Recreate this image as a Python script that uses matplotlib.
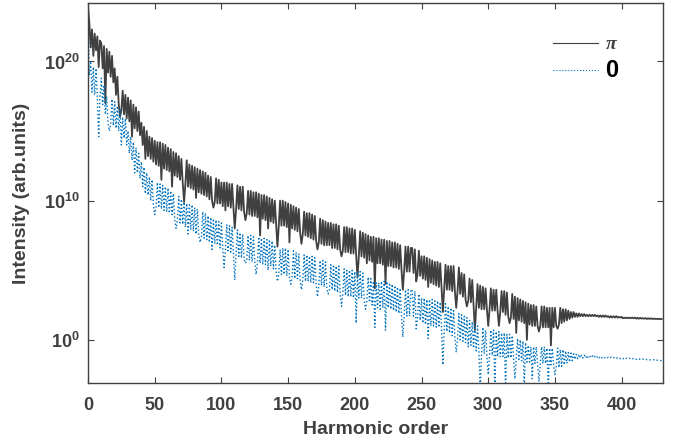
import numpy as np
import matplotlib
matplotlib.use('Agg')
import matplotlib.pyplot as plt

# log10 of intensity, one value per harmonic order 0..430
harmonic_order = np.arange(431)

log_pi = [
    24.0, 22.8, 21.0, 22.3, 20.4, 22.0, 20.8, 21.8, 19.6, 21.5,
    21.3, 19.5, 21.1, 17.0, 20.9, 19.2, 20.7, 18.9, 20.4, 18.5,
    19.5, 17.6, 18.9, 17.0, 16.0, 16.5, 17.9, 16.2, 17.6, 15.9,
    17.4, 15.7, 17.2, 14.6, 16.9, 15.2, 16.7, 15.0, 16.4, 14.7,
    15.6, 14.0, 15.3, 13.0, 15.0, 13.2, 14.6, 13.0, 14.5, 12.8,
    14.3, 12.6, 14.2, 12.5, 14.2, 11.5, 14.1, 12.3, 14.0, 12.2,
    13.8, 12.1, 13.7, 11.0, 13.5, 11.8, 13.4, 11.7, 13.2, 11.5,
    13.0, 11.3, 9.9, 11.2, 12.9, 11.0, 12.6, 10.9, 12.5, 10.8,
    12.4, 10.2, 12.3, 10.6, 12.2, 10.5, 12.1, 10.4, 12.0, 10.3,
    11.8, 10.1, 11.7, 10.0, 9.5, 9.9, 11.6, 9.8, 11.5, 9.8,
    11.3, 9.6, 11.3, 9.3, 11.3, 9.6, 11.2, 9.5, 11.2, 9.5,
    8.0, 9.4, 11.1, 9.4, 11.0, 9.3, 11.0, 9.2, 8.6, 9.1,
    10.7, 9.0, 10.7, 8.9, 10.6, 8.9, 10.6, 8.8, 10.5, 7.5,
    10.4, 8.7, 10.4, 8.6, 10.3, 8.0, 10.2, 8.5, 10.1, 8.4,
    10.0, 8.3, 6.7, 8.2, 10.0, 8.2, 10.0, 8.2, 9.9, 8.1,
    9.8, 7.0, 9.7, 8.0, 9.6, 7.9, 9.5, 7.8, 9.4, 7.7,
    6.9, 7.6, 9.2, 7.5, 9.1, 7.4, 9.1, 7.3, 9.0, 7.2,
    8.9, 7.1, 6.5, 7.0, 8.7, 6.9, 8.6, 6.8, 8.5, 6.8,
    8.4, 6.8, 8.4, 6.6, 8.3, 6.6, 8.3, 6.5, 8.2, 6.5,
    6.0, 6.4, 8.1, 6.3, 8.1, 6.3, 8.0, 6.2, 8.0, 6.2,
    7.9, 6.1, 4.5, 6.0, 7.8, 6.0, 7.7, 5.9, 7.6, 5.5,
    7.5, 5.7, 7.4, 5.6, 7.4, 3.7, 7.3, 5.5, 7.3, 5.5,
    7.2, 5.4, 7.2, 4.0, 7.1, 5.3, 7.1, 5.3, 7.0, 5.2,
    7.0, 5.2, 6.9, 5.1, 6.8, 5.0, 3.6, 5.0, 6.7, 4.9,
    6.7, 4.9, 6.6, 6.6, 4.8, 6.5, 4.2, 4.7, 6.4, 4.6,
    6.0, 4.4, 6.0, 4.3, 5.9, 3.8, 5.8, 4.1, 5.7, 4.0,
    5.6, 3.9, 5.6, 3.8, 5.5, 3.7, 2.0, 3.7, 5.4, 3.6,
    5.3, 3.6, 5.3, 3.5, 5.3, 3.5, 2.3, 3.5, 5.2, 3.3,
    4.8, 3.1, 4.7, 2.9, 2.4, 2.8, 4.4, 2.7, 4.3, 2.5,
    0.7, 2.4, 4.0, 2.3, 3.9, 2.2, 3.8, 2.2, 3.7, 2.2,
    1.0, 2.2, 3.7, 2.1, 3.6, 2.1, 3.6, 2.1, 1.0, 2.0,
    3.5, 2.0, 3.5, 1.8, 3.4, 1.7, 1.2, 1.6, 3.3, 1.5,
    3.1, 0.5, 3.0, 1.4, 2.9, 1.3, 2.8, 1.2, 2.7, 0.0,
    2.6, 1.1, 2.5, 1.0, 2.5, 1.0, 2.4, 1.0, 0.6, 1.0,
    2.4, 0.9, 2.4, 0.9, 2.3, 0.9, 2.3, -0.4, 2.3, 0.9,
    2.3, 1.0, 0.8, 1.1, 2.3, 1.2, 2.2, 1.3, 2.2, 1.4,
    2.1, 1.5, 2.0, 1.6, 2.0, 1.65, 1.9, 1.65, 1.9, 1.7,
    1.85, 1.7, 1.85, 1.7, 1.8, 1.7, 1.8, 1.7, 1.8, 1.7,
    1.8, 1.7, 1.75, 1.65, 1.75, 1.65, 1.75, 1.65, 1.75, 1.65,
    1.7, 1.6, 1.7, 1.6, 1.7, 1.6, 1.7, 1.6, 1.65, 1.6,
    1.65, 1.55, 1.6, 1.55, 1.6, 1.55, 1.6, 1.55, 1.6, 1.55,
    1.6, 1.52, 1.58, 1.52, 1.58, 1.52, 1.56, 1.52, 1.56, 1.5,
    1.55, 1.5, 1.55, 1.5, 1.53, 1.5, 1.52, 1.49, 1.51, 1.49,
    1.5,
]

log_zero = [
    24.0, 19.0, 20.0, 17.8, 19.6, 17.6, 19.5, 17.5, 14.6, 17.5,
    18.8, 16.9, 18.3, 16.2, 17.5, 15.6, 15.0, 15.5, 17.3, 15.4,
    17.1, 15.2, 16.8, 15.0, 16.6, 14.0, 16.0, 14.5, 15.9, 14.0,
    15.0, 13.4, 14.6, 12.9, 14.2, 12.0, 13.8, 12.0, 13.4, 11.6,
    12.8, 11.0, 12.4, 10.5, 12.0, 10.4, 11.7, 10.0, 11.5, 9.7,
    9.0, 9.5, 11.3, 9.5, 11.2, 9.4, 11.1, 9.3, 11.0, 9.2,
    10.9, 9.1, 10.7, 9.0, 10.5, 8.7, 8.0, 8.6, 10.3, 8.4,
    10.1, 8.3, 9.9, 8.1, 9.8, 7.6, 9.7, 7.9, 9.7, 7.8,
    9.5, 7.6, 9.4, 7.5, 7.0, 7.4, 9.2, 7.3, 9.1, 7.2,
    8.9, 7.0, 8.8, 6.5, 8.7, 6.9, 8.6, 6.8, 8.5, 6.6,
    8.4, 6.6, 5.2, 6.5, 8.3, 6.4, 8.2, 6.3, 8.1, 6.2,
    4.3, 6.2, 7.9, 6.0, 7.7, 5.9, 7.6, 5.8, 5.5, 5.7,
    7.5, 5.7, 7.5, 5.6, 7.4, 5.6, 4.7, 5.5, 7.4, 5.5,
    7.3, 5.4, 7.3, 5.4, 7.2, 5.0, 7.2, 5.3, 7.1, 5.1,
    6.8, 4.9, 4.2, 4.7, 6.5, 4.7, 6.6, 4.7, 6.6, 4.6,
    6.5, 4.5, 4.0, 4.5, 6.4, 4.4, 6.3, 4.4, 6.2, 4.3,
    3.6, 4.3, 6.1, 4.2, 6.1, 4.2, 6.0, 4.1, 6.0, 4.1,
    5.9, 4.0, 3.1, 3.9, 5.7, 3.9, 5.7, 3.8, 5.6, 3.7,
    3.3, 3.6, 5.4, 3.6, 5.4, 3.5, 5.3, 3.4, 5.3, 3.4,
    2.4, 3.3, 5.1, 3.2, 5.0, 3.1, 5.0, 3.1, 5.0, 3.0,
    4.9, 1.2, 4.9, 3.0, 4.9, 3.0, 4.8, 2.9, 2.2, 2.8,
    4.5, 2.7, 4.4, 2.5, 4.2, 0.9, 4.1, 2.3, 4.1, 2.2,
    4.2, 2.3, 4.2, 0.7, 4.2, 2.3, 4.1, 2.2, 4.0, 2.1,
    3.9, 2.0, 3.8, 1.9, 3.7, 1.8, 0.2, 1.7, 3.6, 1.7,
    3.6, 1.7, 3.6, 3.6, 1.7, 3.5, 0.8, 1.6, 3.3, 1.4,
    3.0, 1.2, 3.0, 1.1, 2.9, 0.1, 2.9, 1.0, 2.9, 1.0,
    2.8, 0.9, 2.8, 0.9, 2.7, 0.8, -1.8, 0.7, 2.6, 0.6,
    2.4, 0.5, 2.3, 0.3, 2.1, 0.2, -0.9, 0.1, 1.9, 0.0,
    1.8, -0.1, 1.7, -0.2, 1.6, -0.5, 1.4, -0.4, 1.3, -0.6,
    1.1, -0.8, 1.0, -0.9, -3.5, -1.0, 0.9, -1.0, 0.7, -1.1,
    -2.5, -1.1, 0.7, -1.1, 0.7, -3.5, 0.6, -1.2, 0.6, -1.2,
    0.5, -1.2, 0.5, -3.5, 0.4, -1.3, 0.4, -1.3, 0.3, -1.3,
    -2.8, -1.4, 0.1, -1.4, 0.0, -1.5, -0.1, -3.5, -0.2, -1.6,
    -0.4, -1.6, -0.5, -2.8, -0.5, -1.7, -0.5, -1.7, -3.0, -1.7,
    -0.5, -1.7, -0.5, -1.7, -0.6, -3.5, -0.6, -1.8, -0.6, -1.8,
    -2.5, -1.9, -0.6, -2.0, -0.7, -1.9, -0.7, -1.8, -0.8, -1.7,
    -0.9, -1.6, -0.95, -1.5, -1.0, -1.4, -1.05, -1.35, -1.05, -1.3,
    -1.1, -1.3, -1.1, -1.3, -1.12, -1.28, -1.15, -1.28, -1.15, -1.27,
    -1.18, -1.3, -1.18, -1.3, -1.2, -1.3, -1.22, -1.3, -1.22, -1.3,
    -1.25, -1.32, -1.25, -1.32, -1.27, -1.33, -1.27, -1.33, -1.28, -1.35,
    -1.3, -1.36, -1.3, -1.36, -1.32, -1.37, -1.32, -1.38, -1.33, -1.38,
    -1.35, -1.4, -1.35, -1.4, -1.37, -1.41, -1.38, -1.42, -1.39, -1.42,
    -1.4, -1.44, -1.42, -1.45, -1.43, -1.46, -1.45, -1.47, -1.47, -1.48,
    -1.5,
]

x_ticks = [0, 50, 100, 150, 200, 250, 300, 350, 400]
y_ticks = [1e0, 1e10, 1e20]
y_tick_labels = [r'$\mathbf{10^{0}}$', r'$\mathbf{10^{10}}$', r'$\mathbf{10^{20}}$']

GRAY = '#404040'
BLUE = '#0072BD'

plt.rcParams['font.family'] = ['Liberation Sans', 'DejaVu Sans']
plt.rcParams['font.weight'] = 'bold'
plt.rcParams['mathtext.fontset'] = 'custom'
plt.rcParams['mathtext.rm'] = 'Liberation Sans:bold'
plt.rcParams['mathtext.bf'] = 'Liberation Sans:bold'
plt.rcParams['mathtext.it'] = 'Liberation Serif:italic'

fig = plt.figure(figsize=(6.79, 4.46), dpi=100)
ax = fig.add_axes([88 / 679, 63 / 446, 575 / 679, 380 / 446])

ax.plot(harmonic_order, 10.0 ** np.array(log_pi), color=GRAY, lw=1.3, ls='-', label=r'$\pi$')
ax.plot(harmonic_order, 10.0 ** np.array(log_zero), color=BLUE, lw=1.0, ls=':', label='0')

ax.set_yscale('log')
ax.set_xlim(0, 431)
ax.set_ylim(10 ** -3.1, 10 ** 24.2)
ax.set_xticks(x_ticks)
ax.set_yticks(y_ticks)
ax.set_yticklabels(y_tick_labels)
ax.minorticks_off()

ax.tick_params(direction='in', length=4, width=0.8, colors=GRAY, labelsize=13,
               top=True, right=True)
ax.tick_params(axis='x', pad=10)
ax.tick_params(axis='y', pad=6)
for s in ax.spines.values():
    s.set_color(GRAY)
    s.set_linewidth(1.0)

ax.set_xlabel('Harmonic order', fontsize=14, fontweight='bold', color=GRAY, labelpad=5)
ax.set_ylabel('Intensity (arb.units)', fontsize=14, fontweight='bold', color=GRAY, labelpad=10)

leg = ax.legend(loc='upper left', bbox_to_anchor=(0.779, 0.96), frameon=False,
                fontsize=14, handlelength=2.3, handletextpad=0.35, labelspacing=0.3)
for h in leg.get_lines():
    h.set_linewidth(0.8)
texts = leg.get_texts()
texts[0].set_fontweight('normal')
texts[0].set_color(GRAY)
texts[1].set_fontsize(17)
texts[1].set_color('black')

fig.savefig('out.png', dpi=100)
